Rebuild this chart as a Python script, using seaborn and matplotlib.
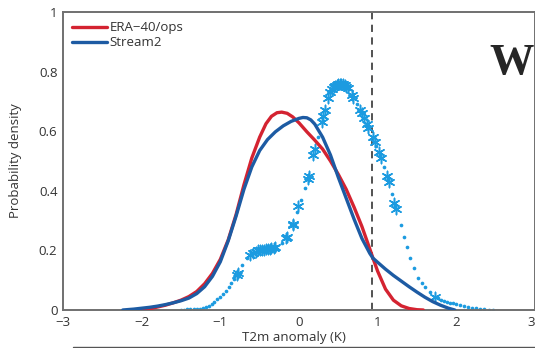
import numpy as np
import pandas as pd
import matplotlib
matplotlib.use("Agg")
import matplotlib.pyplot as plt
import seaborn as sns
from matplotlib.lines import Line2D

# curvas (x = anomalia T2m, y = densidade)
era_x = [-2.0, -1.9, -1.8, -1.7, -1.6, -1.5, -1.4, -1.3, -1.2, -1.1, -1.0, -0.9, -0.8, -0.7,
         -0.6, -0.5, -0.42, -0.35, -0.28, -0.22, -0.15, -0.08, 0.0, 0.1, 0.2, 0.3, 0.4, 0.5,
         0.6, 0.7, 0.8, 0.9, 0.94, 1.0, 1.1, 1.2, 1.3, 1.4, 1.5, 1.58]
era_y = [0.0, 0.004, 0.01, 0.016, 0.024, 0.033, 0.045, 0.062, 0.088, 0.123, 0.17, 0.235, 0.32, 0.42,
         0.51, 0.58, 0.625, 0.65, 0.662, 0.664, 0.66, 0.648, 0.628, 0.598, 0.57, 0.54, 0.50, 0.455,
         0.405, 0.345, 0.28, 0.205, 0.174, 0.13, 0.07, 0.033, 0.014, 0.005, 0.001, 0.0]

s2_x = [-2.24, -2.1, -2.0, -1.9, -1.8, -1.7, -1.6, -1.5, -1.4, -1.3, -1.2, -1.1, -1.0, -0.9,
        -0.8, -0.7, -0.6, -0.5, -0.4, -0.3, -0.2, -0.1, 0.0, 0.05, 0.1, 0.15, 0.2, 0.3, 0.4,
        0.5, 0.6, 0.7, 0.8, 0.9, 0.94, 1.0, 1.1, 1.2, 1.3, 1.4, 1.5, 1.6, 1.7, 1.8, 1.9, 1.98]
s2_y = [0.0, 0.003, 0.006, 0.009, 0.013, 0.018, 0.024, 0.031, 0.04, 0.055, 0.078, 0.113, 0.162, 0.232,
        0.315, 0.405, 0.48, 0.535, 0.572, 0.598, 0.618, 0.633, 0.643, 0.646, 0.645, 0.638, 0.624, 0.58, 0.52,
        0.445, 0.375, 0.305, 0.24, 0.19, 0.174, 0.16, 0.137, 0.116, 0.097, 0.078, 0.06, 0.043, 0.028, 0.016, 0.006, 0.0]

obs_x = [-1.5, -1.46, -1.42, -1.38, -1.34, -1.3, -1.26, -1.22, -1.18, -1.15, -1.11, -1.08, -1.04, -1.0,
         -0.96, -0.93, -0.89, -0.86, -0.82, -0.79, -0.72, -0.66, -0.6, -0.5, -0.4, -0.3,
         -0.22, -0.15, -0.08, -0.03, 0.02, 0.07, 0.12, 0.18, 0.24, 0.29, 0.33, 0.39, 0.45,
         0.52, 0.58, 0.63, 0.67, 0.74, 0.80, 0.88, 0.94, 0.98, 1.03, 1.08, 1.13, 1.18, 1.22,
         1.30, 1.33, 1.37, 1.41, 1.46, 1.51, 1.56, 1.60, 1.67, 1.73, 1.77, 1.80, 1.84, 1.88,
         1.92, 1.96, 2.0, 2.05, 2.1, 2.15, 2.2, 2.25, 2.3, 2.35, 2.41, 2.47]
obs_y = [0.0, 0.001, 0.002, 0.003, 0.004, 0.004, 0.005, 0.006, 0.01, 0.015, 0.021, 0.028, 0.036, 0.045,
         0.055, 0.065, 0.077, 0.09, 0.104, 0.117, 0.15, 0.175, 0.19, 0.2, 0.205, 0.21,
         0.225, 0.245, 0.285, 0.33, 0.37, 0.41, 0.44, 0.52, 0.58, 0.63, 0.67, 0.73, 0.75,
         0.76, 0.755, 0.74, 0.72, 0.69, 0.66, 0.61, 0.58, 0.55, 0.52, 0.48, 0.44, 0.39, 0.35,
         0.285, 0.245, 0.21, 0.174, 0.14, 0.107, 0.09, 0.077, 0.06, 0.044, 0.039, 0.035, 0.031, 0.027,
         0.024, 0.022, 0.02, 0.017, 0.014, 0.01, 0.008, 0.006, 0.004, 0.003, 0.001, 0.0]

# onde aparecem os asteriscos (aglomerados)
star_x = [-0.79, -0.77, -0.62, -0.58, -0.55, -0.52, -0.5, -0.47, -0.45, -0.42, -0.4, -0.37,
          -0.35, -0.32, -0.3, -0.17, -0.15, -0.08, -0.07, -0.01, 0.12, 0.13, 0.18, 0.2,
          0.29, 0.31, 0.33, 0.37, 0.39, 0.42, 0.44, 0.46, 0.48, 0.5, 0.52, 0.54, 0.56,
          0.58, 0.6, 0.62, 0.67, 0.69, 0.78, 0.80, 0.82, 0.86, 0.88, 0.94, 0.96, 1.02,
          1.04, 1.12, 1.14, 1.21, 1.23, 1.73]
star_y = [0.117, 0.125, 0.185, 0.19, 0.196, 0.2, 0.2, 0.202, 0.203, 0.204, 0.205, 0.206,
          0.207, 0.208, 0.21, 0.24, 0.245, 0.285, 0.29, 0.35, 0.44, 0.45, 0.52, 0.54,
          0.63, 0.65, 0.67, 0.71, 0.73, 0.74, 0.748, 0.752, 0.756, 0.758, 0.76, 0.76, 0.758,
          0.755, 0.75, 0.745, 0.72, 0.71, 0.67, 0.66, 0.645, 0.625, 0.61, 0.58, 0.565, 0.53,
          0.51, 0.45, 0.43, 0.36, 0.34, 0.044]

vline_x = 0.93

xticks = [-3, -2, -1, 0, 1, 2, 3]
yticks = [0, 0.2, 0.4, 0.6, 0.8, 1]
ytick_labels = ["0", "0.2", "0.4", "0.6", "0.8", "1"]

red = "#d42331"
dblue = "#1d5ba3"
lblue = "#1c9be0"

sns.set_style("white")
plt.rcParams["font.family"] = ["Open Sans", "DejaVu Sans"]

fig = plt.figure(figsize=(5.35, 3.48), dpi=100)
ax = fig.add_axes([63 / 535, 38 / 348, 472 / 535, 298 / 348])

era = pd.DataFrame({"x": era_x, "y": era_y})
s2 = pd.DataFrame({"x": s2_x, "y": s2_y})
obs = pd.DataFrame({"x": obs_x, "y": obs_y})
stars = pd.DataFrame({"x": star_x, "y": star_y})

sns.scatterplot(data=obs, x="x", y="y", ax=ax, color=lblue, s=7, linewidth=0, zorder=2)
sns.scatterplot(data=stars, x="x", y="y", ax=ax, color=lblue, marker=(6, 2, 0), s=55,
                linewidth=1.1, edgecolor=lblue, zorder=2)
sns.lineplot(data=era, x="x", y="y", ax=ax, color=red, lw=2.4, sort=False,
             estimator=None, label="ERA\u221240/ops", zorder=3)
sns.lineplot(data=s2, x="x", y="y", ax=ax, color=dblue, lw=2.4, sort=False,
             estimator=None, label="Stream2", zorder=4)
ax.axvline(vline_x, color="#444444", lw=1.3, ls=(0, (4, 3)), zorder=1)

ax.set_xlim(-3, 3)
ax.set_ylim(0, 1)
ax.set_xticks(xticks)
ax.set_yticks(yticks)
ax.set_yticklabels(ytick_labels)
ax.tick_params(direction="in", length=4, width=1.2, color="#666666",
               labelsize=9.5, labelcolor="#333333", pad=4)
# o "3" fica encostado na borda direita
ax.get_xticklabels()[-1].set_horizontalalignment("right")
for sp in ax.spines.values():
    sp.set_color("#707070")
    sp.set_linewidth(1.4)
    sp.set_visible(True)

ax.set_xlabel("T2m anomaly (K)", fontsize=9.5, color="#333333")
ax.set_ylabel("Probability density", fontsize=9.5, color="#333333")
ax.xaxis.set_label_coords(0.49, -0.072)
ax.yaxis.set_label_coords(-0.087, 0.5)

leg = ax.legend(loc="upper left", frameon=False, fontsize=9.5, handlelength=2.6,
                handletextpad=0.25, borderaxespad=0.3, labelspacing=0.15,
                bbox_to_anchor=(0.0, 1.0))
for t in leg.get_texts():
    t.set_color("#333333")

fig.text(489 / 535, 1 - 74 / 348, "W", fontsize=32, fontweight="bold",
         family="Liberation Serif", va="baseline", ha="left")
fig.add_artist(Line2D([73 / 535, 1.0], [1.2 / 348, 1.2 / 348], color="#555555", lw=1))

fig.savefig("out.png", dpi=100)
